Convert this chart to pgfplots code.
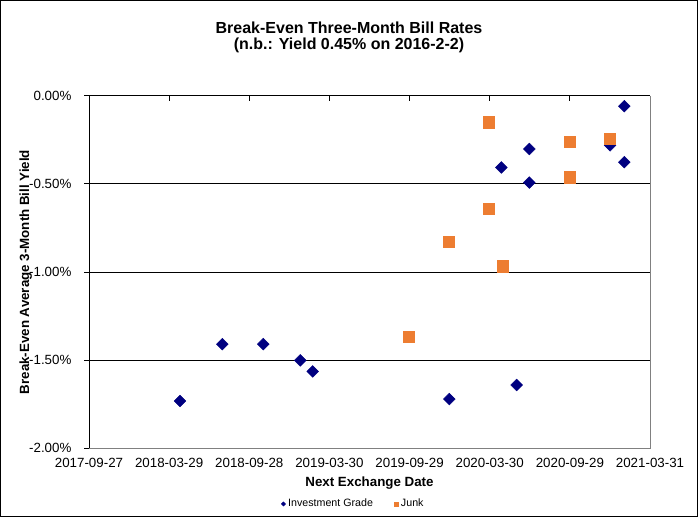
\documentclass[border=0pt]{standalone}
\usepackage{pgfplots}
\pgfplotsset{compat=1.18}
\usepackage{fontspec}
\setmainfont{Liberation Sans}
\definecolor{ig}{RGB}{0,0,128}
\definecolor{junk}{RGB}{237,125,49}
\begin{document}
\begin{tikzpicture}
\path[use as bounding box] (0,0) rectangle (523.5pt,387.75pt);
\draw[line width=0.75pt] (0.375pt,0.375pt) rectangle (523.125pt,387.375pt);
\node[anchor=base, font=\bfseries\fontsize{12}{14}\selectfont] at (261.75pt,362.8pt) {Break-Even Three-Month Bill Rates};
\node[anchor=base, font=\bfseries\fontsize{12}{14}\selectfont] at (261.75pt,350.8pt) {(n.b.: Yield 0.45\% on 2016-2-2)};
\begin{axis}[name=ax, at={(66.75pt,51.75pt)}, anchor=south west, scale only axis,
  width=420.75pt, height=264pt,
  xmin=0, xmax=1281, ymin=-2, ymax=0,
  xtick={0,183,366,549,732,915,1098,1281},
  xticklabels={2017-09-27,2018-03-29,2018-09-28,2019-03-30,2019-09-29,2020-03-30,2020-09-29,2021-03-31},
  ytick={-2,-1.5,-1,-0.5,0},
  yticklabels={-2.00\%,-1.50\%,-1.00\%,-0.50\%,0.00\%},
  xtick pos=right, xticklabel pos=left, xtick align=inside,
  ytick pos=left, ytick align=outside,
  major tick length=3.5pt,
  tick style={black, line width=0.75pt},
  tick label style={font=\fontsize{10}{12}\selectfont},
  xticklabel style={anchor=base, yshift=-14.5pt},
  yticklabel style={anchor=east, inner sep=0pt, xshift=-9.5pt},
  ymajorgrids, major grid style={black, line width=0.75pt},
  axis line style={draw=none},
  xlabel={Next Exchange Date},
  xlabel style={at={(axis description cs:0.5,-0.1098)}, anchor=base, font=\bfseries\fontsize{10}{12}\selectfont},
  legend style={at={(axis description cs:0.472,-0.159)}, anchor=center, draw=none, fill=none,
    font=\fontsize{8}{10}\selectfont, /tikz/every even column/.append style={column sep=14pt}},
  legend columns=2, legend cell align=left,
]
\addplot[only marks, mark=square*, mark size=3.1pt, mark options={rotate=45, fill=ig, draw=ig},
  legend image code/.code={\draw[mark=square*, mark size=1.1pt, mark options={rotate=45, fill=ig, draw=ig}] plot coordinates {(0pt,0pt)};}]
coordinates {
(207.8,-1.733) (304.4,-1.410) (398.0,-1.410) (482.5,-1.502) (510.8,-1.565)
(822.7,-1.722) (976.6,-1.642) (941.5,-0.406) (1005.4,-0.301) (1005.4,-0.492)
(1189.7,-0.280) (1222.3,-0.058) (1222.3,-0.376)
};
\addlegendentry{Investment Grade}
\addplot[only marks, mark=square*, mark size=4.3pt, mark options={fill=junk, draw=junk},
  legend image code/.code={\draw[mark=square*, mark size=1.5pt, mark options={fill=junk, draw=junk}] plot coordinates {(0pt,0pt)};}]
coordinates {
(730.7,-1.368) (821.3,-0.829) (912.7,-0.148) (912.7,-0.641) (944.7,-0.967)
(1097.6,-0.261) (1097.6,-0.462) (1189.7,-0.244)
};
\addlegendentry{Junk}
\end{axis}
\node[rotate=90, anchor=base, font=\bfseries\fontsize{10}{12}\selectfont] at (21.8pt,183.75pt) {Break-Even Average 3-Month Bill Yield};
\draw[gray, line width=0.75pt] (ax.south west) -- (ax.south east) -- (ax.north east);
\draw[black, line width=0.75pt] (ax.south west) -- (ax.north west) -- (ax.north east);
\end{tikzpicture}
\end{document}
